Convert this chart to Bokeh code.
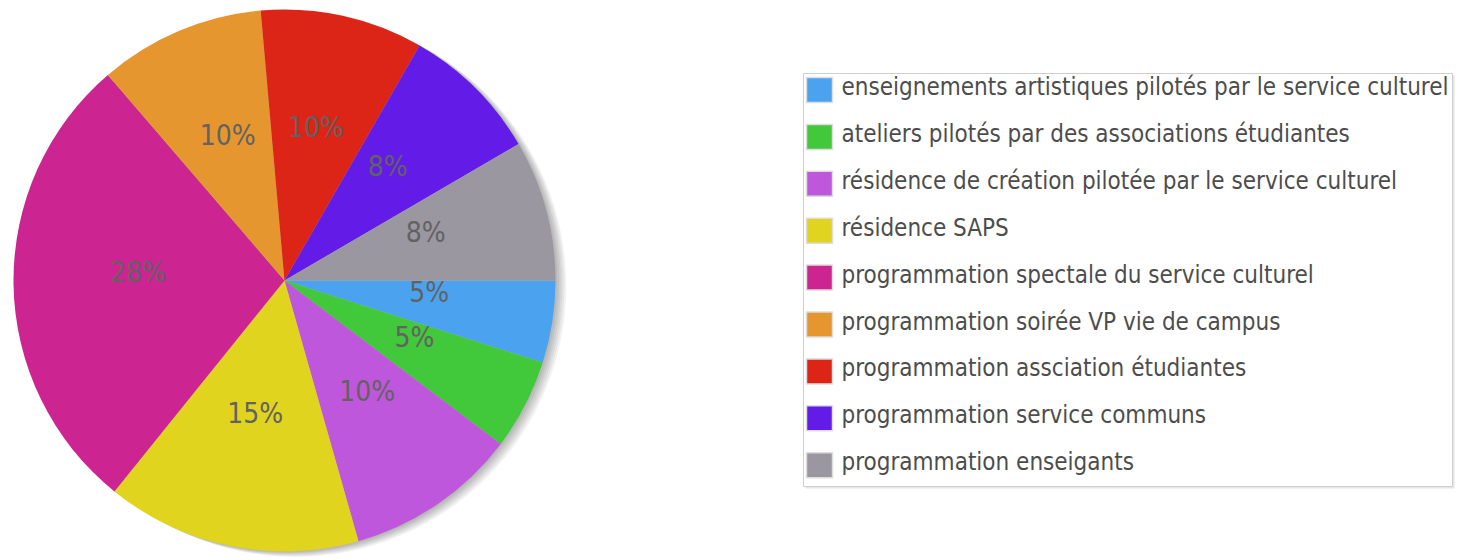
import numpy as np
from bokeh.plotting import figure
from bokeh.models import Range1d, ColumnDataSource
from bokeh.core.properties import value
from bokeh.embed import file_html
from bokeh.resources import INLINE

# ---- data ----
categories = [
    "enseignements artistiques pilotés par le service culturel",
    "ateliers pilotés par des associations étudiantes",
    "résidence de création pilotée par le service culturel",
    "résidence SAPS",
    "programmation spectale du service culturel",
    "programmation soirée VP vie de campus",
    "programmation assciation étudiantes",
    "programmation service communs",
    "programmation enseigants",
]
shares = [4.9, 5.4, 10.3, 15.2, 27.9, 9.9, 9.7, 8.3, 8.4]
colors = ["#4ba3ef", "#41c83b", "#be57dc", "#e0d41e", "#cc2592",
          "#e6962f", "#dc2516", "#631ce7", "#9a97a0"]

FONT = "DejaVu Sans Condensed"
W, H = 1463, 560

p = figure(width=W, height=H, output_backend="svg", toolbar_location=None,
           x_range=Range1d(0, W), y_range=Range1d(0, H),
           x_axis_location=None, y_axis_location=None, min_border=0)
p.xgrid.visible = False
p.ygrid.visible = False
p.outline_line_color = None
p.background_fill_color = "white"
p.border_fill_color = "white"

# pie geometry (y measured upward)
cx, cy, r = 284, H - 280, 271

vals = np.array(shares, dtype=float)
frac = vals / vals.sum()
end_cw = np.cumsum(frac) * 2 * np.pi
start_cw = end_cw - frac * 2 * np.pi

# shadow (offset to lower right)
for k in range(1, 7):
    off = 2.0 * k
    p.circle(x=[cx + off * 0.9], y=[cy - off * 0.45], radius=r,
             fill_color="black", fill_alpha=0.05, line_color=None)

src = ColumnDataSource(dict(start=-end_cw, end=-start_cw, color=colors))
p.wedge(x=cx, y=cy, radius=r, start_angle="start", end_angle="end",
        fill_color="color", line_color=None, source=src)

mid = -(start_cw + end_cw) / 2
lab_r = 0.54 * r
labels = [f"{int(round(f * 100))}%" for f in frac]
p.text(x=list(cx + lab_r * np.cos(mid)), y=list(cy + lab_r * np.sin(mid) + 10),
       text=labels, text_align="center", text_baseline="middle",
       text_font=value(FONT), text_font_size="28px", text_color="#626262")

# legend box
bl, br, bt, bb = 803, 1452, H - 73, H - 486
p.quad(left=bl + 2, right=br + 2, top=bt - 2, bottom=bb - 2,
       fill_color="#e6e6e6", line_color=None)
p.quad(left=bl, right=br, top=bt, bottom=bb,
       fill_color="white", line_color="#cfcfcf", line_width=1)

n = len(categories)
row_y = [H - (89.5 + 46.9 * i) for i in range(n)]
p.rect(x=[819] * n, y=row_y, width=26, height=25,
       fill_color=colors, line_color="#dddddd", line_width=1.5)
p.text(x=[841] * n, y=[yy + 3 for yy in row_y], text=categories, text_align="left",
       text_baseline="middle", text_font=value(FONT),
       text_font_size="24px", text_color="#4d4d4d")

open("out.html", "w").write(file_html(p, INLINE))
